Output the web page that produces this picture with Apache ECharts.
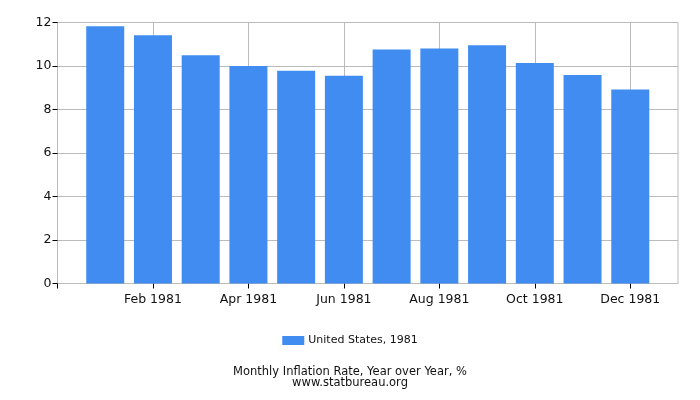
<!DOCTYPE html>
<html>
<head>
<meta charset="utf-8">
<script src="https://cdn.jsdelivr.net/npm/echarts@6/dist/echarts.min.js"></script>
<style>html,body{margin:0;padding:0;background:#fff}#c{width:700px;height:400px}</style>
</head>
<body>
<div id="c"></div>
<script>
var categories = ['Jan 1981','Feb 1981','Mar 1981','Apr 1981','May 1981','Jun 1981','Jul 1981','Aug 1981','Sep 1981','Oct 1981','Nov 1981','Dec 1981'];
var values = [11.83, 11.41, 10.49, 10.00, 9.78, 9.55, 10.76, 10.80, 10.95, 10.14, 9.59, 8.92];
var seriesName = 'United States, 1981';
var titleLines = ['Monthly Inflation Rate, Year over Year, %', 'www.statbureau.org'];
var yTicks = [0, 2, 4, 6, 8, 10, 12];
var xTickPositions = [0, 2, 4, 6, 8, 10, 12];

var data = values.map(function (v, i) { return [i + 1, v]; });
var chart = echarts.init(document.getElementById('c'));
chart.setOption({
  animation: false,
  textStyle: { fontFamily: 'DejaVu Sans' },
  title: {
    text: titleLines.join('\n'),
    left: 'center', top: 362,
    textStyle: { fontSize: 11.5, fontWeight: 'normal', color: '#111', lineHeight: 11, fontFamily: 'DejaVu Sans' }
  },
  legend: {
    top: 330, left: 'center',
    icon: 'rect', itemWidth: 22, itemHeight: 9, itemGap: 4,
    textStyle: { fontSize: 11, color: '#111', fontFamily: 'DejaVu Sans', padding: [0, 0, 0, -1] },
    data: [seriesName]
  },
  grid: { left: 57.5, right: 22, top: 22.5, bottom: 116.5, show: true, borderColor: '#bbb', borderWidth: 1 },
  xAxis: {
    type: 'value', min: 0, max: 13, interval: 2,
    axisLine: { show: true, lineStyle: { color: '#bbb' } },
    axisTick: { show: true, length: 5, lineStyle: { color: '#000' }, customValues: xTickPositions },
    axisLabel: {
      fontSize: 12.5, color: '#111', margin: 10,
      customValues: xTickPositions,
      formatter: function (v) { return v >= 1 && v <= 12 ? categories[v - 1] : ''; }
    },
    splitLine: { show: true, lineStyle: { color: '#bbb' } }
  },
  yAxis: {
    type: 'value', min: yTicks[0], max: yTicks[yTicks.length - 1], interval: 2,
    axisLine: { show: true, lineStyle: { color: '#bbb' } },
    axisTick: { show: true, length: 5, lineStyle: { color: '#000' } },
    axisLabel: { fontSize: 12.5, color: '#111', margin: 6 },
    splitLine: { show: true, lineStyle: { color: '#bbb' } }
  },
  series: [{
    name: seriesName, type: 'bar', data: data, barWidth: 38,
    itemStyle: { color: '#418CF0' }
  }]
});
</script>
</body>
</html>
